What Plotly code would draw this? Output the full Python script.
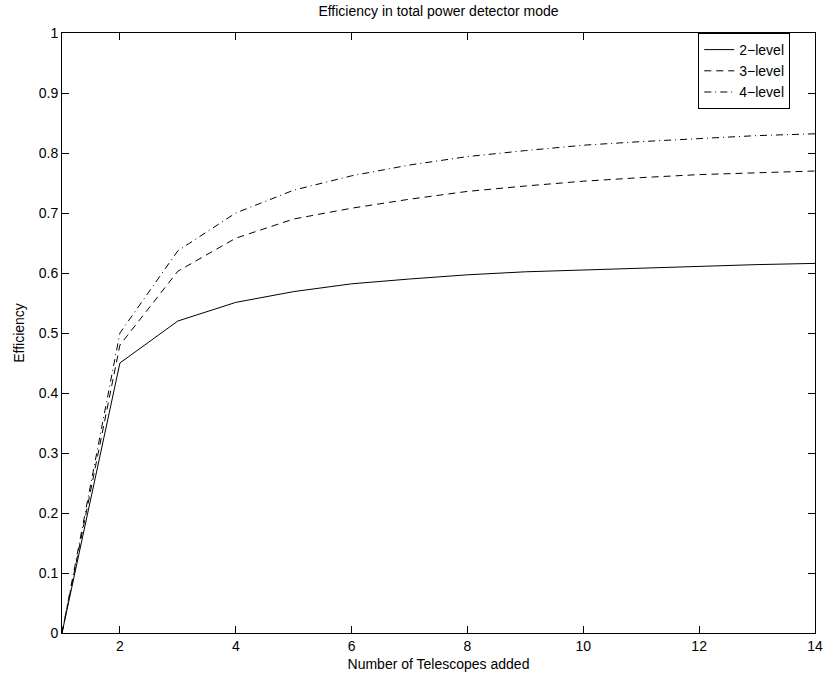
import plotly.graph_objects as go

# Number of telescopes added
telescopes = [1, 2, 3, 4, 5, 6, 7, 8, 9, 10, 11, 12, 13, 14]

# Efficiency for each quantisation level
eff_2level = [0.0, 0.450, 0.520, 0.551, 0.569, 0.582, 0.590, 0.597, 0.602, 0.605, 0.609, 0.611, 0.614, 0.616]
eff_3level = [0.0, 0.480, 0.603, 0.658, 0.690, 0.708, 0.723, 0.736, 0.745, 0.753, 0.759, 0.764, 0.767, 0.770]
eff_4level = [0.0, 0.500, 0.637, 0.700, 0.738, 0.762, 0.780, 0.794, 0.804, 0.813, 0.819, 0.824, 0.829, 0.832]

series_names = ["2\u2212level", "3\u2212level", "4\u2212level"]
x_ticks = [2, 4, 6, 8, 10, 12, 14]
y_ticks = [0, 0.1, 0.2, 0.3, 0.4, 0.5, 0.6, 0.7, 0.8, 0.9, 1]
y_tick_text = ["0", "0.1", "0.2", "0.3", "0.4", "0.5", "0.6", "0.7", "0.8", "0.9", "1"]

FONT = "Liberation Sans, Arial, Helvetica, sans-serif"
FS = 14
dashes = ["solid", "7px,5px", "7px,4px,1px,4px"]

fig = go.Figure()
for name, vals, dash in zip(series_names, [eff_2level, eff_3level, eff_4level], dashes):
    fig.add_trace(go.Scatter(
        x=telescopes, y=vals, mode="lines", name=name,
        line=dict(color="black", width=1, dash=dash),
    ))

axis_common = dict(
    showgrid=False, zeroline=False,
    showline=True, linecolor="black", linewidth=1, mirror="ticks",
    ticks="inside", ticklen=7, tickwidth=1, tickcolor="black",
    tickfont=dict(family=FONT, size=FS, color="black"),
)

fig.update_layout(
    width=835, height=682,
    margin=dict(l=62, r=12, t=33, b=49),
    paper_bgcolor="white", plot_bgcolor="white",
    font=dict(family=FONT, size=FS, color="black"),
    title=dict(text="Efficiency in total power detector mode",
               x=0.5, xref="paper", xanchor="center",
               y=1 - 11 / 682, yref="container", yanchor="middle",
               font=dict(family=FONT, size=FS, color="black")),
    xaxis=dict(range=[1, 14], tickvals=x_ticks,
               title=dict(text="Number of Telescopes added", standoff=6,
                          font=dict(family=FONT, size=FS, color="black")),
               **axis_common),
    yaxis=dict(range=[0, 1], tickvals=y_ticks, ticktext=y_tick_text,
               title=dict(text="Efficiency", standoff=10,
                          font=dict(family=FONT, size=FS, color="black")),
               **axis_common),
    legend=dict(x=(798 - 62) / 761, xanchor="right", y=1, yanchor="top",
                bgcolor="white", bordercolor="black", borderwidth=1,
                font=dict(family=FONT, size=FS, color="black"),
                itemwidth=30, tracegroupgap=0),
    showlegend=True,
)

fig.write_html("out.html")
